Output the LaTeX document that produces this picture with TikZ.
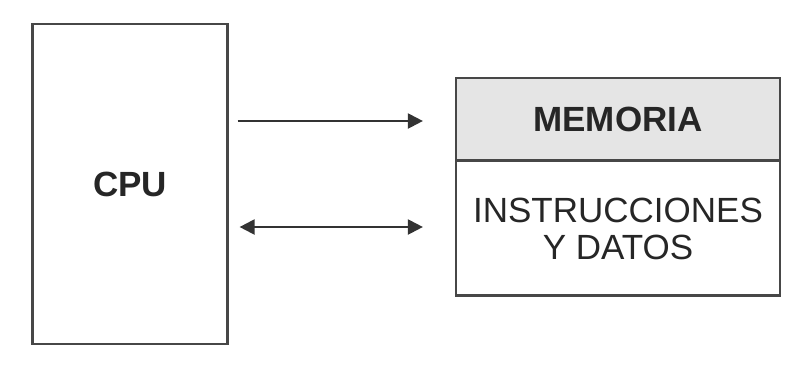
\documentclass[tikz,border=0pt]{standalone}
\usepackage{fontspec}
\setmainfont{Liberation Sans}
\usetikzlibrary{arrows.meta}
\begin{document}
\begin{tikzpicture}[x=1pt,y=-1pt,
  frame/.style={draw=black!72,line width=2.2pt},
  tip/.tip={Triangle[length=15pt,width=15pt]},
  link/.style={draw=black!80,line width=2.2pt,-tip},
  biglabel/.style={font=\fontsize{35}{37}\selectfont,text=black!85,inner sep=0pt,align=center}]
\useasboundingbox (0,0) rectangle (795,368);
\fill[white] (0,0) rectangle (795,368);
% processor block
\node[frame,minimum width=195pt,minimum height=320pt,inner sep=0pt] (cpu) at (130,184) {};
\node[biglabel,font=\fontsize{35}{37}\selectfont\bfseries] (cpulbl) at (cpu.center) {CPU};
% memory block with shaded header
\fill[black!10] (456,78) rectangle (780,160.5);
\draw[frame] (456,160.5) -- (780,160.5);
\node[frame,minimum width=324pt,minimum height=217.5pt,inner sep=0pt] (mem) at (618,186.75) {};
\node[biglabel,font=\fontsize{35}{37}\selectfont\bfseries] (memtitle) at (618,119) {MEMORIA};
\node[biglabel] (memtext) at (618,229) {INSTRUCCIONES\\Y DATOS};
% connectors
\coordinate (a1s) at (cpu.east |- 0,121);
\coordinate (a1e) at (mem.west |- 0,121);
\coordinate (a2s) at (cpu.east |- 0,227);
\coordinate (a2e) at (mem.west |- 0,227);
\draw[link,shorten <=9pt,shorten >=32pt] (a1s) -- (a1e);
\draw[link,tip-tip,shorten <=11pt,shorten >=32pt] (a2s) -- (a2e);
\end{tikzpicture}
\end{document}
